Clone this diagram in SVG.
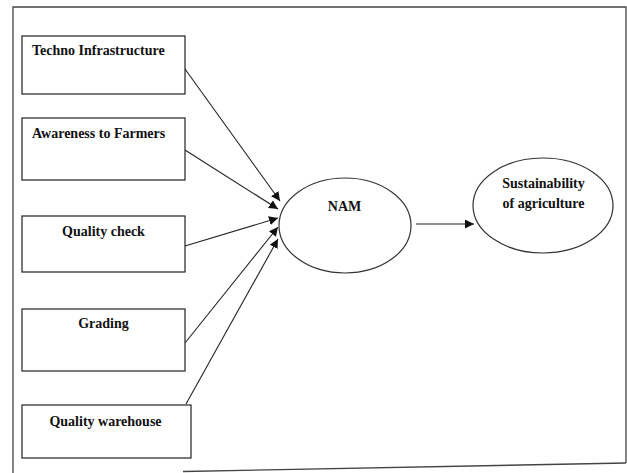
<svg xmlns="http://www.w3.org/2000/svg" width="627" height="473" viewBox="0 0 627 473">
<defs>
<style>
.box{fill:#fff;stroke:#222;stroke-width:1.2}
.ell{fill:#fff;stroke:#333;stroke-width:1.2}
.lbl{font-family:"Liberation Serif","Times New Roman",serif;font-weight:bold;font-size:14px;fill:#111}
.con{stroke:#222;stroke-width:1.1;fill:none;marker-end:url(#ah)}
.frame{stroke:#444;stroke-width:1.3;fill:none}
</style>
<marker id="ah" viewBox="0 0 10 10" refX="10" refY="5" markerWidth="9" markerHeight="9" markerUnits="userSpaceOnUse" orient="auto">
<path d="M0,0 L10,5 L0,10 z" fill="#111"/>
</marker>
</defs>
<rect width="627" height="473" fill="#fff"/>
<g id="frame">
<polyline class="frame" points="13,473 13,7 626,7 626,463"/>
<line class="frame" x1="183" y1="471.5" x2="626" y2="463"/>
</g>
<g id="connectors">
<line class="con" x1="185" y1="69" x2="280" y2="201"/>
<line class="con" x1="185" y1="150" x2="278" y2="209"/>
<line class="con" x1="185" y1="246" x2="278" y2="218"/>
<line class="con" x1="185" y1="343" x2="278" y2="227"/>
<line class="con" x1="186" y1="404" x2="278" y2="239"/>
<line class="con" x1="416" y1="224" x2="474" y2="224"/>
</g>
<g id="techno">
<rect class="box" x="22" y="36" width="163" height="58"/>
<text class="lbl" x="32" y="55">Techno Infrastructure</text>
</g>
<g id="awareness">
<rect class="box" x="22" y="118" width="163" height="62"/>
<text class="lbl" x="32" y="138">Awareness to Farmers</text>
</g>
<g id="quality-check">
<rect class="box" x="22" y="216" width="163" height="56"/>
<text class="lbl" x="103.5" y="236" text-anchor="middle">Quality check</text>
</g>
<g id="grading">
<rect class="box" x="22" y="309" width="163" height="62"/>
<text class="lbl" x="103.5" y="328" text-anchor="middle">Grading</text>
</g>
<g id="quality-warehouse">
<rect class="box" x="22" y="405" width="169" height="53"/>
<text class="lbl" x="105.5" y="426" text-anchor="middle">Quality warehouse</text>
</g>
<g id="nam">
<ellipse class="ell" cx="345" cy="225.5" rx="66" ry="47.5"/>
<text class="lbl" x="344.5" y="211" text-anchor="middle">NAM</text>
</g>
<g id="sustainability">
<ellipse class="ell" cx="543" cy="205.5" rx="70" ry="47.5"/>
<text class="lbl" x="543.5" y="188" text-anchor="middle">Sustainability</text>
<text class="lbl" x="543.5" y="208" text-anchor="middle">of agriculture</text>
</g>
</svg>
